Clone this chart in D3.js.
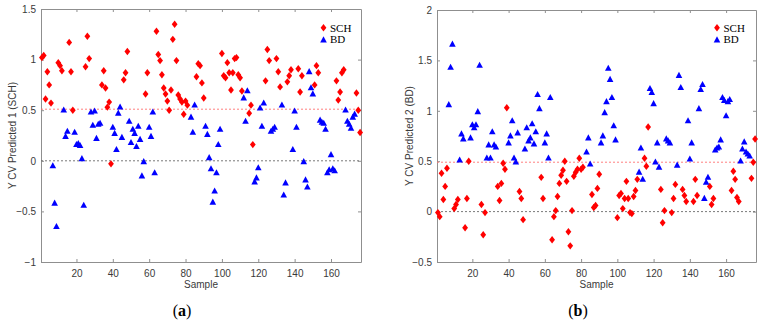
<!DOCTYPE html>
<html>
<head>
<meta charset="utf-8">
<script src="https://cdn.jsdelivr.net/npm/d3@7"></script>
<style>
  body { margin: 0; background: #fff; }
</style>
</head>
<body>
<div id="chart-area"></div>
<script>
// samples of each class and their cross-validated predictions
var schSamples = [1, 2, 3, 4, 5, 6, 10, 11, 12, 16, 17, 18, 25, 26, 27, 34, 35, 36, 37, 38, 39, 46, 47, 48, 58, 59,
  64, 65, 66, 67, 68, 69, 70, 71, 72, 73, 74, 75, 76, 77, 78, 79, 80, 81, 86, 87, 88, 89, 90,
  100, 101, 102, 103, 104, 105, 106, 107, 108, 109, 110, 111, 115, 116, 117, 124, 125, 126, 130, 131, 132,
  136, 137, 138, 142, 143, 144, 151, 152, 153, 163, 164, 165, 166, 167, 174, 175, 176];
var schPred1 = [1.02, 1.04, 0.61, 0.88, 0.75, 0.57, 0.97, 0.94, 0.89, 1.17, 0.88, 0.50, 0.93, 1.23, 1.01, 0.75, 0.89, 0.72, 0.53, 0.58, -0.03, 0.80, 0.87, 1.08, 0.66, 0.87,
  1.28, 1.05, 0.99, 0.85, 0.72, 0.66, 0.59, 0.50, 0.70, 1.20, 1.35, 0.99, 0.65, 0.61, 0.58, 0.46, 0.59, 0.55, 0.83, 0.96, 0.94, 0.77, 0.62,
  1.06, 0.84, 0.82, 0.97, 0.87, 0.70, 0.87, 1.01, 1.02, 0.85, 0.82, 0.69, 0.47, 0.55, 0.16, 0.79, 1.10, 0.99, 1.01, 0.88, 0.73,
  0.78, 0.84, 0.90, 0.91, 0.68, 0.84, 0.75, 0.94, 0.87, 0.79, 0.60, 0.68, 0.87, 0.90, 0.67, 0.50, 0.28];
var schPred2 = [-0.01, -0.05, 0.38, 0.12, 0.25, 0.43, 0.03, 0.07, 0.12, -0.16, 0.13, 0.50, 0.07, -0.23, -0.01, 0.25, 0.11, 0.28, 0.48, 0.42, 1.03, 0.20, 0.13, -0.08, 0.34, 0.13,
  -0.28, -0.05, 0.01, 0.15, 0.28, 0.36, 0.41, 0.50, 0.30, -0.20, -0.34, 0.01, 0.35, 0.39, 0.42, 0.53, 0.42, 0.44, 0.17, 0.04, 0.06, 0.23, 0.37,
  -0.06, 0.16, 0.18, 0.03, 0.13, 0.30, 0.13, -0.01, -0.02, 0.15, 0.21, 0.32, 0.53, 0.45, 0.84, 0.22, -0.11, 0.01, -0.01, 0.13, 0.27,
  0.22, 0.16, 0.10, 0.10, 0.32, 0.16, 0.25, 0.07, 0.13, 0.21, 0.40, 0.32, 0.14, 0.10, 0.33, 0.49, 0.72];

var bdSamples = [7, 8, 9, 13, 14, 15, 19, 20, 21, 22, 23, 24, 28, 29, 30, 31, 32, 33, 40, 41, 42, 43, 44, 45,
  49, 50, 51, 52, 53, 54, 55, 56, 57, 60, 61, 62, 63, 83, 84, 85, 91, 92, 93, 94, 95, 96, 97, 98, 99,
  112, 113, 114, 118, 119, 120, 121, 122, 123, 127, 128, 129, 133, 134, 135, 139, 140, 141,
  145, 146, 147, 148, 149, 150, 154, 155, 156, 157, 158, 159, 160, 161, 162, 168, 169, 170, 171, 172, 173];
var bdPred1 = [-0.05, -0.42, -0.65, 0.50, 0.24, 0.29, 0.28, 0.16, 0.17, 0.15, 0.02, -0.44, 0.48, 0.35, 0.49, 0.22, 0.36, 0.37, 0.33, 0.27, 0.11, 0.47, 0.53, 0.23,
  0.39, 0.18, 0.31, 0.27, 0.14, 0.34, 0.21, -0.15, -0.01, 0.33, 0.24, 0.48, -0.12, 0.43, 0.28, 0.55, 0.34, 0.26, 0.03, -0.08, -0.41, -0.30, -0.12, 0.16, 0.31,
  0.62, 0.39, 0.69, -0.21, -0.17, -0.07, 0.52, 0.34, 0.57, 0.29, 0.31, 0.33, 0.55, -0.34, -0.22, 0.11, 0.49, 0.33,
  -0.01, -0.19, -0.26, 0.88, 0.72, 0.66, 0.40, 0.38, 0.37, 0.31, -0.12, -0.09, 0.06, -0.08, -0.10, 0.50, 0.39, 0.36, 0.32, 0.43, 0.46];
var bdPred2 = [1.06, 1.43, 1.66, 0.51, 0.77, 0.72, 0.73, 0.86, 0.83, 0.86, 0.99, 1.45, 0.53, 0.66, 0.53, 0.79, 0.66, 0.64, 0.68, 0.75, 0.90, 0.53, 0.49, 0.78,
  0.62, 0.83, 0.70, 0.73, 0.87, 0.67, 0.79, 1.16, 1.02, 0.68, 0.77, 0.53, 1.13, 0.59, 0.73, 0.47, 0.68, 0.75, 0.98, 1.09, 1.42, 1.31, 1.13, 0.85, 0.71,
  0.39, 0.63, 0.32, 1.22, 1.18, 1.07, 0.49, 0.68, 0.44, 0.72, 0.70, 0.68, 0.46, 1.35, 1.23, 0.90, 0.52, 0.68,
  1.02, 1.21, 1.26, 0.13, 0.29, 0.34, 0.61, 0.63, 0.64, 0.71, 1.13, 1.10, 0.95, 1.09, 1.11, 0.50, 0.62, 0.69, 0.59, 0.57, 0.55];

var xTicks = [20, 40, 60, 80, 100, 120, 140, 160];
var yTicks1 = [-1, -0.5, 0, 0.5, 1, 1.5];
var yTicks2 = [-0.5, 0, 0.5, 1, 1.5, 2];
var threshold1 = 0.51, threshold2 = 0.49;
var legendLabels = ["SCH", "BD"];

var svg = d3.select("#chart-area")
  .append("svg")
  .attr("width", 764)
  .attr("height", 325);

var diamond = "M0,-3.7L2.9,0L0,3.7L-2.9,0Z";
var triangle = "M0,-3.7L3.3,2.4L-3.3,2.4Z";
var red = "#ff0000", blue = "#0000ff";

var panels = [
  { left: 41, right: 361, top: 9, bottom: 262, yDomain: [-1, 1.5], yTicks: yTicks1,
    sch: schPred1, bd: bdPred1, threshold: threshold1, yLabel: "Y CV Predicted 1 (SCH)",
    yLabelX: 15.5, legendX: 330, caption: "a", captionX: 182 },
  { left: 437, right: 756, top: 10, bottom: 262, yDomain: [-0.5, 2], yTicks: yTicks2,
    sch: schPred2, bd: bdPred2, threshold: threshold2, yLabel: "Y CV Predicted 2 (BD)",
    yLabelX: 412.5, legendX: 723.5, caption: "b", captionX: 578 }
];

panels.forEach(drawPanel);

function drawPanel(p) {
  var x = d3.scaleLinear().domain([0.5, 176.5]).range([p.left, p.right]);
  var y = d3.scaleLinear().domain(p.yDomain).range([p.bottom, p.top]);
  var g = svg.append("g");

  // box with inward ticks on all four sides
  g.append("g")
    .attr("transform", "translate(0," + p.bottom + ")")
    .call(d3.axisBottom(x).tickValues(xTicks).tickSize(-3).tickSizeOuter(0).tickPadding(7.5));
  g.append("g")
    .attr("transform", "translate(0," + p.top + ")")
    .call(d3.axisTop(x).tickValues(xTicks).tickSize(-3).tickSizeOuter(0).tickFormat(""));
  g.append("g")
    .attr("transform", "translate(" + p.left + ",0)")
    .call(d3.axisLeft(y).tickValues(p.yTicks).tickSize(-3).tickSizeOuter(0).tickPadding(5)
      .tickFormat(d3.format("~g")));
  g.append("g")
    .attr("transform", "translate(" + p.right + ",0)")
    .call(d3.axisRight(y).tickValues(p.yTicks).tickSize(-3).tickSizeOuter(0).tickFormat(""));

  g.selectAll(".domain, .tick line").attr("stroke", "#8f8f8f");
  g.selectAll(".tick text")
    .attr("font-family", "Liberation Sans, Arial, sans-serif")
    .attr("font-size", 10)
    .attr("fill", "#3a3a3a");

  // reference lines
  g.append("line")
    .attr("x1", p.left).attr("x2", p.right)
    .attr("y1", y(0)).attr("y2", y(0))
    .attr("stroke", "#6a6a6a").attr("stroke-width", 0.9)
    .attr("stroke-dasharray", "2,2");
  g.append("line")
    .attr("x1", p.left).attr("x2", p.right)
    .attr("y1", y(p.threshold)).attr("y2", y(p.threshold))
    .attr("stroke", "#ff7070").attr("stroke-width", 0.9)
    .attr("stroke-dasharray", "2,2");

  // markers
  g.append("g").selectAll("path")
    .data(d3.zip(schSamples, p.sch))
    .enter().append("path")
    .attr("d", diamond)
    .attr("fill", red)
    .attr("transform", function (d) { return "translate(" + x(d[0]) + "," + y(d[1]) + ")"; });

  g.append("g").selectAll("path")
    .data(d3.zip(bdSamples, p.bd))
    .enter().append("path")
    .attr("d", triangle)
    .attr("fill", blue)
    .attr("transform", function (d) { return "translate(" + x(d[0]) + "," + y(d[1]) + ")"; });

  // axis labels
  g.append("text")
    .attr("x", (p.left + p.right) / 2)
    .attr("y", 288)
    .attr("text-anchor", "middle")
    .attr("font-family", "Liberation Sans, Arial, sans-serif")
    .attr("font-size", 10)
    .attr("fill", "#3a3a3a")
    .text("Sample");

  g.append("text")
    .attr("transform", "translate(" + p.yLabelX + "," + ((p.top + p.bottom) / 2) + ") rotate(-90)")
    .attr("text-anchor", "middle")
    .attr("font-family", "Liberation Sans, Arial, sans-serif")
    .attr("font-size", 10)
    .attr("fill", "#3a3a3a")
    .text(p.yLabel);

  // legend
  var legend = g.append("g");
  legendLabels.forEach(function (label, i) {
    var row = legend.append("g")
      .attr("transform", "translate(" + p.legendX + "," + (27.7 + i * 11.8) + ")");
    row.append("path")
      .attr("d", i == 0 ? diamond : triangle)
      .attr("fill", i == 0 ? red : blue)
      .attr("transform", "translate(-6.5," + (i == 0 ? 0 : 0.5) + ")");
    row.append("text")
      .attr("x", 0)
      .attr("y", 3.8)
      .attr("font-family", "Liberation Serif, Times New Roman, serif")
      .attr("font-size", 11)
      .attr("fill", "#000")
      .text(label);
  });

  // caption
  var cap = g.append("text")
    .attr("x", p.captionX)
    .attr("y", 316)
    .attr("text-anchor", "middle")
    .attr("font-family", "Liberation Serif, Times New Roman, serif")
    .attr("font-size", 16)
    .attr("fill", "#000");
  cap.append("tspan").text("(");
  cap.append("tspan").attr("font-weight", "bold").text(p.caption);
  cap.append("tspan").text(")");
}
</script>
</body>
</html>
